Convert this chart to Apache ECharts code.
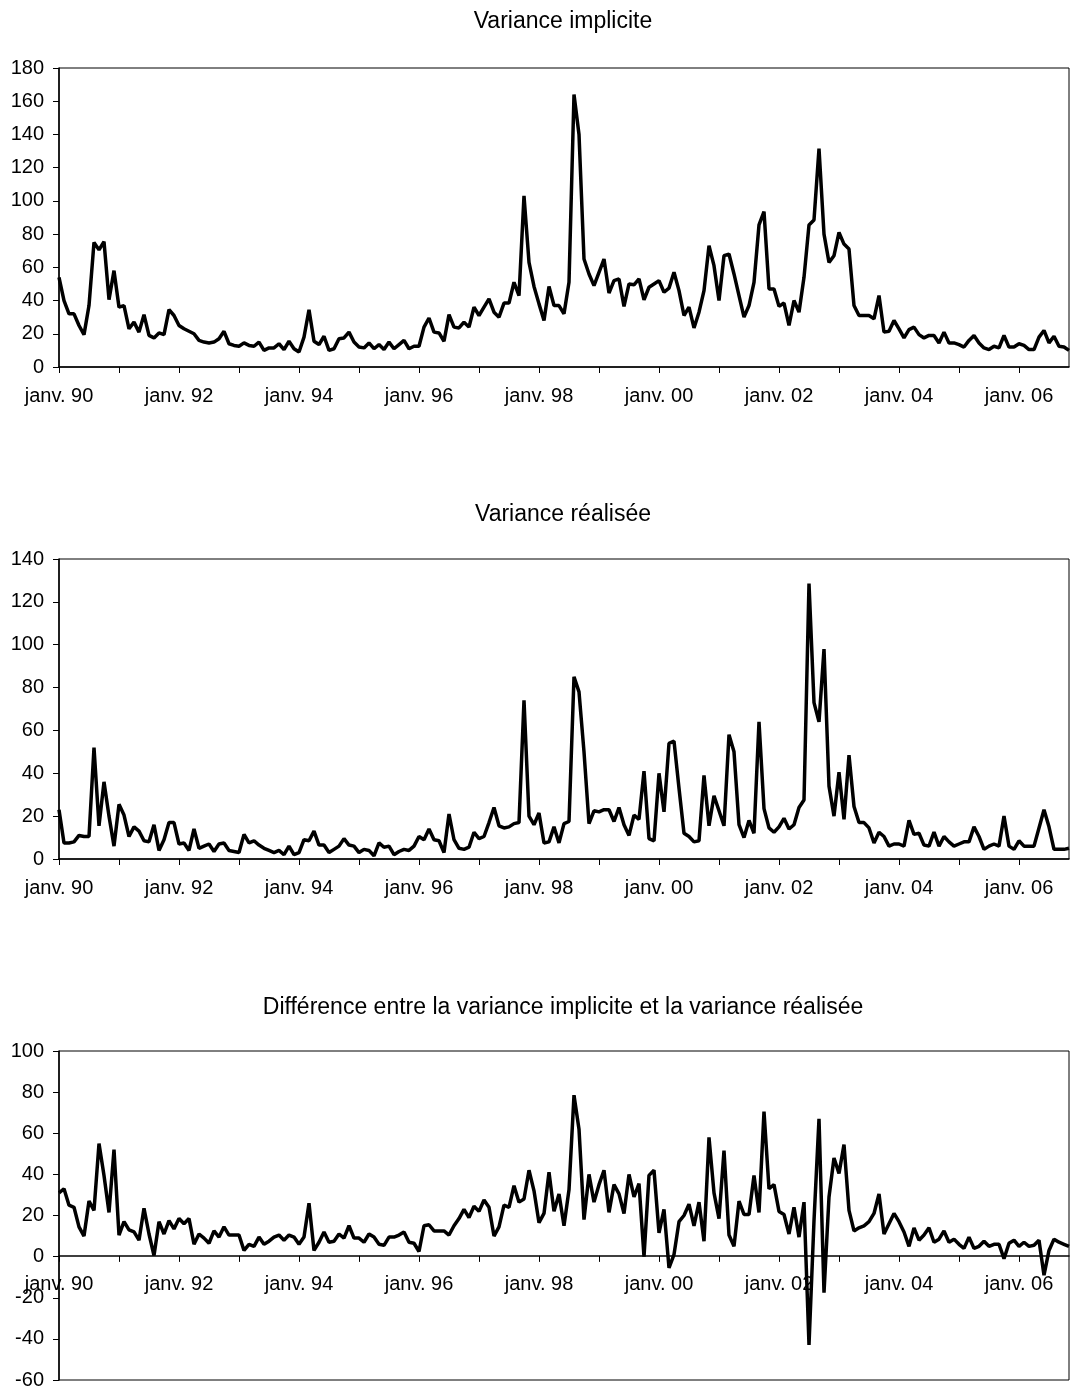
<!DOCTYPE html>
<html>
<head>
<meta charset="utf-8">
<script src="https://cdn.jsdelivr.net/npm/echarts@6/dist/echarts.min.js"></script>
<style>
html,body{margin:0;padding:0;background:#fff;}
#chart{width:1070px;height:1390px;}
</style>
</head>
<body>
<div id="chart"></div>
<script>
// ---- Data (monthly, janv. 1990 – nov. 2006) ----
const monthNames = ['janv.','févr.','mars','avr.','mai','juin','juil.','août','sept.','oct.','nov.','déc.'];
const startYear = 1990;

const titles = [
  'Variance implicite',
  'Variance réalisée',
  'Différence entre la variance implicite et la variance réalisée'
];

const implied = [
  54, 40, 32, 32, 25, 19.5, 37, 75, 70.5, 75.5,
  40.5, 58, 36, 37, 23, 27, 21, 31.5, 19, 17.5,
  20.5, 19.5, 34.5, 31, 25, 23, 21.5, 20, 16, 15,
  14.5, 15, 17, 21.5, 14, 13, 12.5, 14.5, 13, 12.5,
  15, 10, 11.5, 11.5, 14, 10.5, 15.5, 11, 9, 18,
  34.5, 15.5, 13.5, 18.5, 10, 11, 17, 17.5, 21, 15,
  12, 11.5, 14.5, 11, 13.5, 10.5, 15, 11, 13.5, 16,
  11, 12.5, 12.5, 24, 29.5, 21, 20.5, 15.5, 31.5, 24,
  23.5, 27, 24, 36, 31, 36, 41, 33, 30, 38.5,
  38.5, 51, 43, 103, 63, 48.5, 38, 28, 48.5, 37,
  37, 32, 51, 164, 140, 65, 56, 49, 57, 65,
  44.5, 52, 53, 36.5, 50, 49.5, 53, 40.5, 48, 50,
  52, 45, 47.5, 57, 46, 31, 36, 23.5, 33, 46,
  73, 61, 40, 67, 68, 56, 43, 30, 37, 51,
  85.5, 93.5, 47, 47, 36.5, 38.5, 25, 40, 33, 54,
  85.5, 88.5, 131.5, 80, 63, 67, 81, 74, 71, 37,
  31, 31, 31, 29, 43, 21, 21.5, 28, 23, 17.5,
  22.5, 24, 19.5, 17.5, 19, 19, 14.5, 21, 14.5, 14.5,
  13.5, 12, 16, 19, 14.5, 11.5, 10.5, 12.5, 11.5, 19,
  12, 12, 14, 13, 10.5, 10.5, 18, 22, 14.5, 18.5,
  12.5, 12, 10
];

const realized = [
  23, 7.5, 7.5, 8, 11, 10.5, 10.5, 52, 15.5, 36,
  20, 6, 25.5, 20.5, 10.5, 15, 13, 8.5, 8, 16,
  4, 9, 17, 17, 7, 7.5, 4, 14, 5, 6,
  7, 3.5, 7, 7.5, 4, 3.5, 3, 11.5, 7.5, 8.5,
  6.5, 5, 4, 3, 4, 2, 6, 2, 3, 9,
  8.5, 13, 6.5, 6.5, 3, 4.5, 6, 9.5, 6.5, 6,
  3, 4.5, 4, 1.5, 7.5, 5.5, 6, 2, 3.5, 4.5,
  4, 6, 10.5, 9, 14, 9, 8.5, 3, 21, 9,
  5, 4.5, 5.5, 12.5, 9.5, 10.5, 17, 24, 15.5, 14.5,
  15, 16.5, 17, 74, 20, 16, 21.5, 7.5, 8, 15,
  7.5, 16.5, 17.5, 85, 78, 50, 16.5, 22.5, 22, 23,
  23, 17.5, 24, 16, 11, 20.5, 18.5, 41, 9.5, 8.5,
  40, 22, 54, 55, 33, 12, 10.5, 8, 8.5, 39,
  15.5, 29.5, 22.5, 15.5, 58, 50, 16, 10, 18, 12,
  64, 23.5, 14.5, 12.5, 15, 19, 14, 16, 24, 27.5,
  128.5, 73, 64, 98, 34, 20, 40.5, 18.5, 48.5, 24.5,
  17, 17, 14.5, 7.5, 12.5, 10.5, 6, 7, 7, 6,
  18, 11.5, 12, 6.5, 6, 12.5, 6, 10.5, 8, 6,
  7, 8, 8, 15, 10.5, 4.5, 6, 7, 6, 20,
  6, 4.5, 8.5, 6, 6, 6, 14.5, 23, 15, 4.5,
  4.5, 4.5, 5
];

const difference = [
  31, 33, 25, 24, 14.5, 10, 27, 22.5, 55, 39.5,
  21.5, 52, 10.5, 17, 13, 12, 8, 23.5, 11, 0.5,
  17, 11, 17.5, 13.5, 18.5, 16, 18.5, 6, 11, 9,
  6.5, 12.5, 9.5, 14.5, 10.5, 10.5, 10.5, 3, 6, 5,
  9.5, 6, 7.5, 9.5, 10.5, 8, 10.5, 9.5, 6, 9.5,
  26, 3, 7, 12, 7, 7.5, 11, 9, 15, 9,
  9, 7, 11, 9.5, 6, 5.5, 9.5, 9.5, 10.5, 12,
  7, 6.5, 2.5, 15, 15.5, 12.5, 12.5, 12.5, 10.5, 15,
  18.5, 23, 19, 24.5, 22, 27.5, 24, 10, 14.5, 25,
  24, 34.5, 26.5, 28, 42, 32, 16.5, 21, 41, 22,
  30.5, 15, 32.5, 78.5, 62, 18, 40, 26.5, 35, 42,
  21.5, 35, 30.5, 21, 40, 29, 35.5, 0, 39.5, 42,
  11.5, 23, -5.5, 1, 17, 20, 25.5, 15, 26.5, 7.5,
  58, 31, 18.5, 51.5, 10.5, 5, 27, 20.5, 20.5, 39.5,
  21.5, 70.5, 33, 35, 22, 20.5, 11, 24, 9.5, 26.5,
  -43, 17.5, 67, -17.5, 29, 48, 40.5, 54.5, 22.5, 12.5,
  14, 15, 17, 21, 30.5, 11, 16, 21, 17, 12,
  5, 14, 8, 10.5, 14, 7, 8.5, 12.5, 7, 8.5,
  6, 4, 9.5, 4, 5, 7.5, 5, 6, 6, -1,
  6.5, 8, 5, 7, 5, 5.5, 8, -9, 3, 8.5,
  7, 6, 5
];

// y-axis ranges: [min, max, interval]
const yRanges = [[0, 180, 20], [0, 140, 20], [-60, 100, 20]];

const categories = implied.map((_, i) =>
  monthNames[i % 12] + ' ' + String((startYear + Math.floor(i / 12)) % 100).padStart(2, '0'));

// ---- Layout ----
const FONT = '"Liberation Sans", Arial, sans-serif';
const grids = [
  { left: 59, right: 1, top: 68, height: 299 },
  { left: 59, right: 1, top: 559, height: 300 },
  { left: 59, right: 1, top: 1051, height: 331 }
];
const titleTops = [10, 503, 996];
const seriesData = [implied, realized, difference];

// x axis sits at value 0 of each panel: offset from the grid bottom
function zeroOffset(k) {
  const r = yRanges[k];
  if (r[0] >= 0) return 0;
  return -grids[k].height * (0 - r[0]) / (r[1] - r[0]);
}

const option = {
  animation: false,
  backgroundColor: '#fff',
  title: titles.map((t, k) => ({
    text: t, left: 563, top: titleTops[k], textAlign: 'center', padding: 0,
    textStyle: { fontFamily: FONT, fontSize: 23, fontWeight: 'normal', color: '#000' }
  })),
  grid: grids.map(g => Object.assign({ show: true, borderColor: '#000', borderWidth: 1, backgroundColor: 'transparent' }, g)),
  xAxis: grids.map((g, k) => ({
    type: 'category', gridIndex: k, data: categories, boundaryGap: false,
    position: 'bottom', offset: zeroOffset(k),
    axisLine: { onZero: false, lineStyle: { color: '#000', width: 1.5 } },
    axisTick: { show: true, interval: 11, length: 6, lineStyle: { color: '#000', width: 1 } },
    axisLabel: { interval: 23, margin: 19, fontFamily: FONT, fontSize: 20, color: '#000' },
    splitLine: { show: false }
  })),
  yAxis: yRanges.map((r, k) => ({
    type: 'value', gridIndex: k, min: r[0], max: r[1], interval: r[2],
    axisLine: { show: true, lineStyle: { color: '#000', width: 1.5 } },
    axisTick: { show: true, length: 6, lineStyle: { color: '#000', width: 1 } },
    axisLabel: { margin: 15, fontFamily: FONT, fontSize: 20, color: '#000' },
    splitLine: { show: false }
  })),
  series: seriesData.map((d, k) => ({
    type: 'line', xAxisIndex: k, yAxisIndex: k, data: d,
    showSymbol: false, symbol: 'none',
    lineStyle: { color: '#000', width: 3.5 }
  }))
};

const chart = echarts.init(document.getElementById('chart'), null, { renderer: 'canvas' });
chart.setOption(option);
</script>
</body>
</html>
